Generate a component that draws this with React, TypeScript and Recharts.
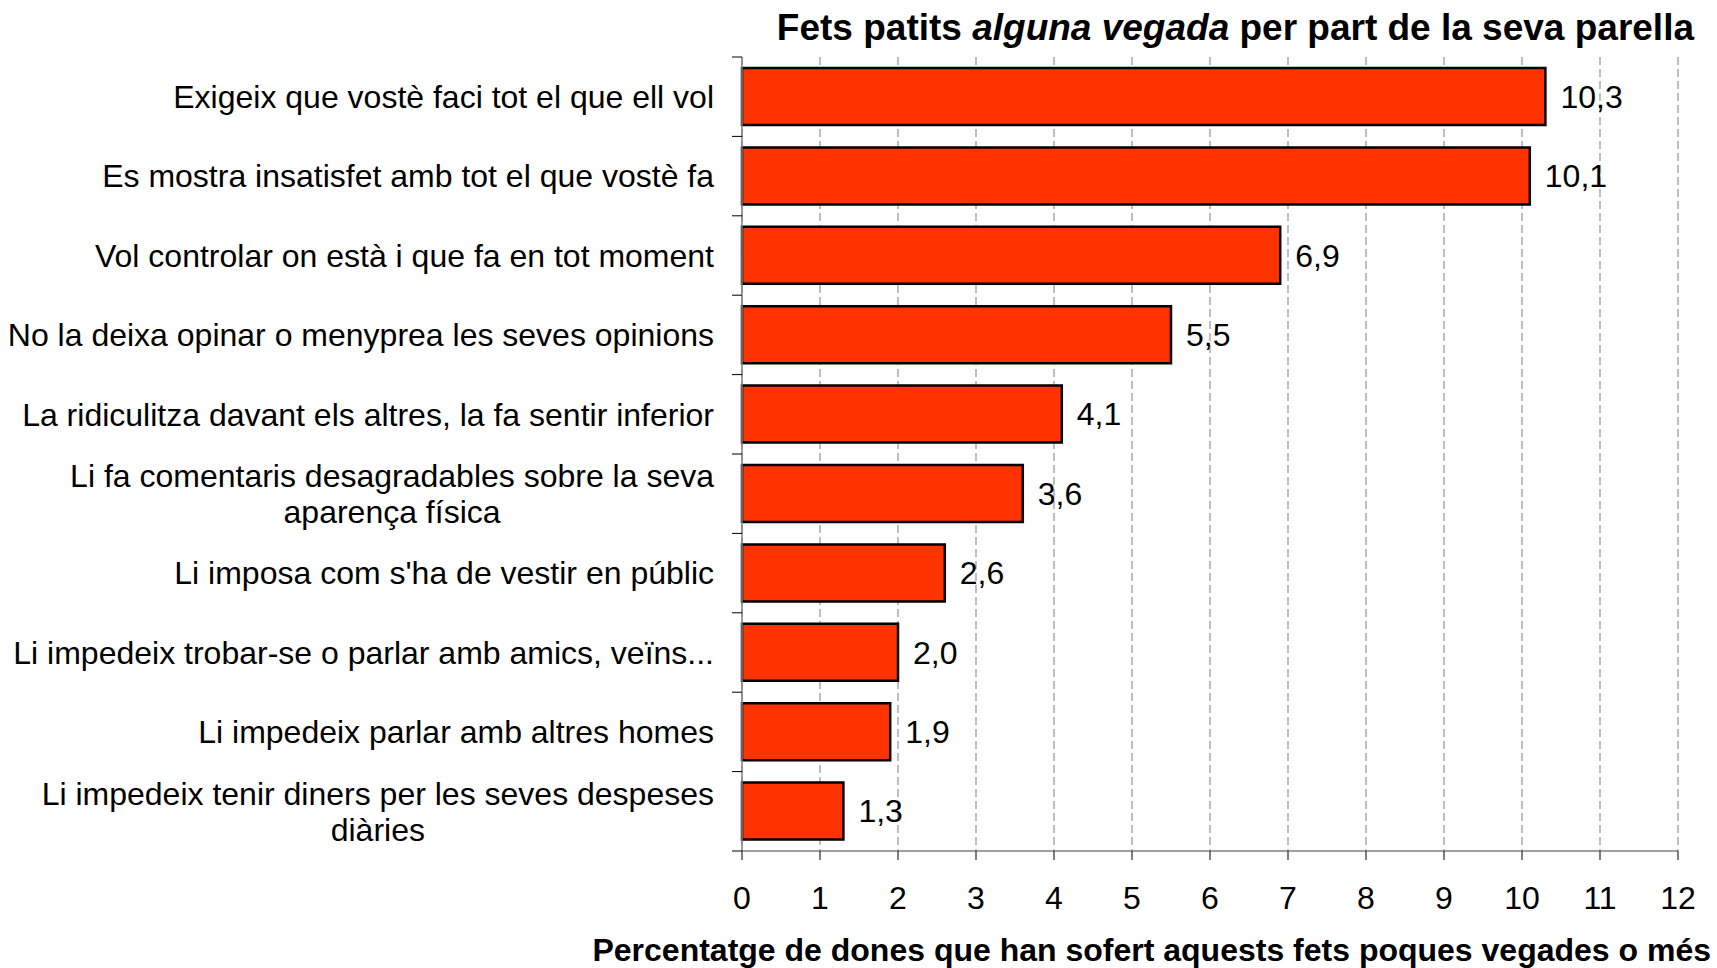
import { BarChart, Bar, XAxis, YAxis, CartesianGrid, LabelList } from 'recharts';

const CATEGORIES = [
  'Exigeix que vostè faci tot el que ell vol',
  'Es mostra insatisfet amb tot el que vostè fa',
  'Vol controlar on està i que fa en tot moment',
  'No la deixa opinar o menyprea les seves opinions',
  'La ridiculitza davant els altres, la fa sentir inferior',
  'Li fa comentaris desagradables sobre la seva\naparença física',
  "Li imposa com s'ha de vestir en públic",
  'Li impedeix trobar-se o parlar amb amics, veïns...',
  'Li impedeix parlar amb altres homes',
  'Li impedeix tenir diners per les seves despeses\ndiàries',
];
const VALUES = [10.3, 10.1, 6.9, 5.5, 4.1, 3.6, 2.6, 2.0, 1.9, 1.3];
const X_TICKS = [0, 1, 2, 3, 4, 5, 6, 7, 8, 9, 10, 11, 12];

const TITLE_A = 'Fets patits ';
const TITLE_B = 'alguna vegada';
const TITLE_C = ' per part de la seva parella';
const X_TITLE = 'Percentatge de dones que han sofert aquests fets poques vegades o més';

const data = CATEGORIES.map((name, i) => ({ name, value: VALUES[i] }));

const FONT = '"Liberation Sans", Arial, sans-serif';
const W = 1717;
const H = 968;
const TOP = 57;
const BOTTOM = 851;
const AXIS_X = 742;
const BAND = (BOTTOM - TOP) / CATEGORIES.length;

let ctx: CanvasRenderingContext2D | null = null;
function measure(t: string) {
  if (!ctx) ctx = document.createElement('canvas').getContext('2d');
  if (!ctx) return t.length * 15;
  ctx.font = `32px ${FONT}`;
  return ctx.measureText(t).width;
}

function CatTick(props: any) {
  const { y, payload, index } = props;
  const lines: string[] = String(payload.value).split('\n');
  const right = AXIS_X - 28;
  const top = y - BAND / 2;
  const marks = (
    <g>
      <line x1={AXIS_X - 10} x2={AXIS_X} y1={top} y2={top} stroke="#000" strokeWidth={1} />
      {index === CATEGORIES.length - 1 && (
        <line x1={AXIS_X - 10} x2={AXIS_X} y1={top + BAND} y2={top + BAND} stroke="#000" strokeWidth={1} />
      )}
    </g>
  );
  if (lines.length === 1) {
    return (
      <g>
        {marks}
        <text x={right} y={y} dy="0.35em" textAnchor="end" fontSize={32} fontFamily={FONT} fill="#000">
          {lines[0]}
        </text>
      </g>
    );
  }
  const w = Math.max(...lines.map(measure));
  const cx = right - w / 2;
  return (
    <g>
      {marks}
      {lines.map((l, i) => (
        <text key={i} x={cx} y={y + (i - (lines.length - 1) / 2) * 36} dy="0.35em" textAnchor="middle" fontSize={32} fontFamily={FONT} fill="#000">
          {l}
        </text>
      ))}
    </g>
  );
}

export default function App() {
  return (
    <div style={{ position: 'absolute', left: 0, top: 0, width: W, height: H, background: '#fff', fontFamily: FONT }}>
      <BarChart
        width={W}
        height={H}
        data={data}
        layout="vertical"
        margin={{ top: TOP, right: W - 1678, bottom: H - BOTTOM - 60, left: 0 }}
      >
        <CartesianGrid horizontal={false} stroke="#BFBFBF" strokeDasharray="8 4" strokeWidth={2} />
        <XAxis
          type="number"
          domain={[0, 12]}
          ticks={X_TICKS}
          interval={0}
          height={60}
          tickSize={9}
          tickMargin={26}
          axisLine={{ stroke: '#808080', strokeWidth: 1.5 }}
          tickLine={{ stroke: '#000', strokeWidth: 1 }}
          tick={{ fontSize: 32, fill: '#000', fontFamily: FONT }}
        />
        <YAxis
          type="category"
          dataKey="name"
          width={AXIS_X}
          interval={0}
          tickLine={false}
          axisLine={{ stroke: '#808080', strokeWidth: 1.5 }}
          tick={<CatTick />}
        />
        <Bar dataKey="value" fill="#FF3300" stroke="#000" strokeWidth={2.5} barSize={57} isAnimationActive={false}>
          <LabelList
            dataKey="value"
            position="right"
            offset={15}
            formatter={(v: any) => Number(v).toFixed(1).replace('.', ',')}
            style={{ fontSize: 32, fill: '#000', fontFamily: FONT }}
          />
        </Bar>
      </BarChart>
      <svg width={W} height={H} style={{ position: 'absolute', left: 0, top: 0, pointerEvents: 'none' }}>
        <text x={1694} y={40} textAnchor="end" fontSize={37} fontWeight="bold" fontFamily={FONT} fill="#000">
          {TITLE_A}
          <tspan fontStyle="italic">{TITLE_B}</tspan>
          {TITLE_C}
        </text>
        <text x={1711} y={961} textAnchor="end" fontSize={32} fontWeight="bold" fontFamily={FONT} fill="#000">
          {X_TITLE}
        </text>
      </svg>
    </div>
  );
}
